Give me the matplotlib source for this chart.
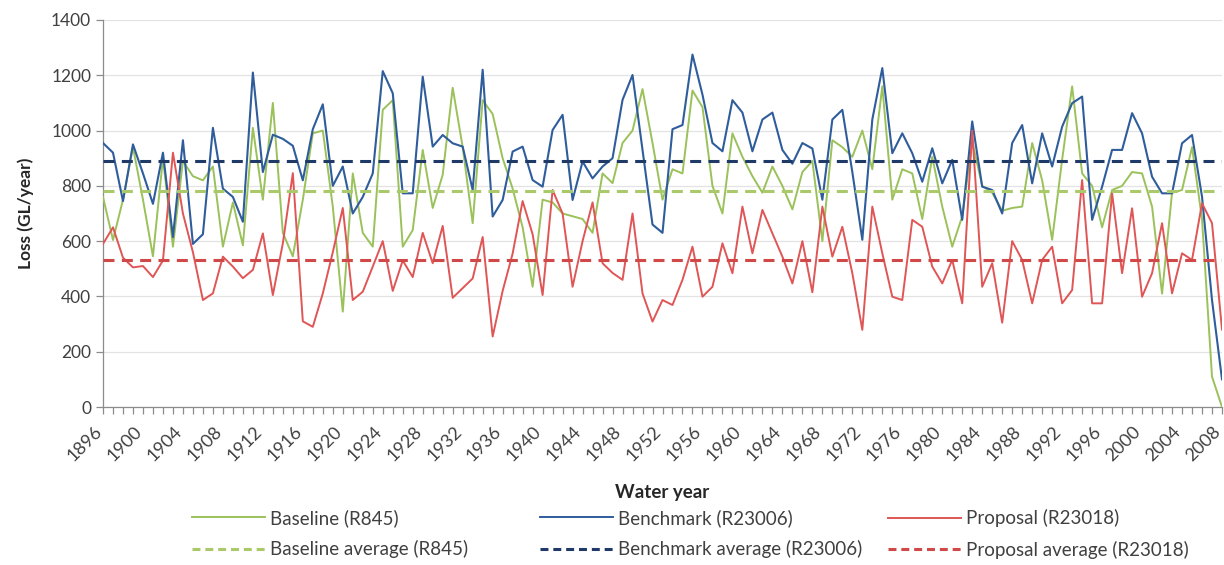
import numpy as np
import matplotlib
matplotlib.use("Agg")
import matplotlib.pyplot as plt
from matplotlib.lines import Line2D
from matplotlib.ticker import MultipleLocator
import matplotlib.transforms as mtransforms

# water years 1896 .. 2008
years = list(range(1896, 2009))

baseline = [
    760, 604, 750, 940, 750, 545, 900, 580, 890, 835,
    820, 870, 580, 740, 585, 1010, 750, 1100, 630, 545,
    750, 990, 1000, 725, 345, 845, 630, 580, 1075, 1110,
    580, 640, 930, 720, 840, 1155, 940, 665, 1110, 1060,
    900, 790, 650, 435, 750, 740, 700, 690, 680, 630,
    845, 810, 955, 1000, 1150, 955, 750, 860, 845, 1145,
    1085, 800, 700, 990, 905, 835, 775, 870, 800, 715,
    850, 890, 600, 965, 940, 905, 1000, 860, 1160, 750,
    860, 845, 680, 905, 725, 580, 690, 960, 800, 775,
    710, 720, 725, 955, 820, 605, 895, 1160, 845, 800,
    650, 785, 800, 850, 845, 725, 410, 775, 785, 940,
    680, 110, 0,
]

benchmark = [
    955, 920, 745, 950, 845, 735, 920, 615, 965, 590,
    625, 1010, 790, 760, 670, 1210, 850, 985, 970, 945,
    820, 1005, 1095, 800, 870, 700, 760, 845, 1215, 1135,
    773, 773, 1195, 942, 984, 954, 942, 785, 1220, 689,
    749, 924, 942, 821, 797, 1002, 1057, 749, 888, 827,
    870, 900, 1111, 1201, 930, 660, 630, 1005, 1020, 1275,
    1130, 955, 925, 1110, 1065, 925, 1040, 1065, 930, 880,
    955, 935, 750, 1040, 1075, 850, 605, 1040, 1226, 918,
    990, 918, 815, 936, 809, 894, 677, 1033, 797, 785,
    700, 955, 1020, 809, 990, 870, 1014, 1099, 1123, 677,
    797, 930, 930, 1063, 990, 833, 773, 773, 954, 984,
    761, 387, 100,
]

proposal = [
    590, 650, 540, 505, 510, 470, 530, 920, 700, 560,
    387, 411, 544, 508, 466, 496, 628, 405, 592, 846,
    310, 290, 411, 560, 720, 387, 417, 508, 600, 420,
    530, 470, 630, 520, 655, 395, 430, 465, 615, 255,
    420, 555, 745, 625, 405, 785, 700, 435, 600, 740,
    520, 485, 460, 700, 411, 309, 387, 369, 460, 580,
    399, 435, 592, 484, 725, 556, 713, 628, 544, 447,
    600, 415, 725, 544, 652, 484, 279, 725, 556, 399,
    387, 677, 652, 508, 447, 532, 375, 1000, 435, 520,
    305, 600, 532, 375, 532, 580, 375, 423, 821, 375,
    375, 773, 484, 719, 399, 484, 665, 411, 556, 532,
    737, 665, 280,
]

baseline_avg = 782
benchmark_avg = 890
proposal_avg = 530

labels = [
    "Baseline (R845)", "Benchmark (R23006)", "Proposal (R23018)",
    "Baseline average (R845)", "Benchmark average (R23006)", "Proposal average (R23018)",
]

GREEN = "#9bc15a"
BLUE = "#2f5d9c"
RED = "#e05555"
GREEN_D = "#a9c96a"
BLUE_D = "#1f3a66"
RED_D = "#d04848"
TXT = "#404040"


def main():
    plt.rcParams["font.family"] = ["Lato", "DejaVu Sans"]

    ##########
    # LAYOUT #
    ##########
    W, H = 1224, 565
    fig = plt.figure(figsize=(W / 100, H / 100), dpi=100)
    ax = fig.add_axes([103 / W, 1 - 407 / H, (1222 - 103) / W, (407 - 20) / H])

    ############
    # PLOTTING #
    ############
    ax.plot(years, baseline, color=GREEN, lw=1.4, zorder=3)
    ax.plot(years, benchmark, color=BLUE, lw=1.5, zorder=3)
    ax.plot(years, proposal, color=RED, lw=1.4, zorder=3)

    dash = dict(lw=2.2, dashes=(3.6, 2.4), zorder=4)
    ax.plot([years[0], years[-1]], [baseline_avg] * 2, color=GREEN_D, **dash)
    ax.plot([years[0], years[-1]], [benchmark_avg] * 2, color=BLUE_D, **dash)
    ax.plot([years[0], years[-1]], [proposal_avg] * 2, color=RED_D, **dash)

    ax.set_xlim(1896, 2008)
    ax.set_ylim(0, 1400)
    ax.yaxis.set_major_locator(MultipleLocator(200))
    ax.xaxis.set_major_locator(MultipleLocator(4))
    ax.xaxis.set_minor_locator(MultipleLocator(1))
    ax.grid(axis="y", color="#e3e3e3", lw=0.9, zorder=0)

    for s in ["top", "right"]:
        ax.spines[s].set_visible(False)
    for s in ["left", "bottom"]:
        ax.spines[s].set_color("#8c8c8c")
        ax.spines[s].set_linewidth(0.9)

    ax.tick_params(axis="both", which="both", colors="#8c8c8c", length=5, width=0.9)
    ax.tick_params(axis="y", labelcolor=TXT, labelsize=12.5)
    ax.tick_params(axis="x", labelcolor=TXT, labelsize=13, pad=7)

    offset = mtransforms.ScaledTranslation(2 / 100, 0, fig.dpi_scale_trans)
    for lab in ax.get_xticklabels():
        lab.set_rotation(45)
        lab.set_ha("right")
        lab.set_va("top")
        lab.set_transform(lab.get_transform() + offset)

    ax.set_ylabel("Loss (GL/year)", fontsize=12.5, fontweight="bold", color="#262626", labelpad=12)
    ax.set_xlabel("Water year", fontsize=13.5, fontweight="bold", color="#262626", labelpad=14)

    ##########
    # LEGEND #
    ##########
    cols = [(GREEN, GREEN_D), (BLUE, BLUE_D), (RED, RED_D)]
    starts = [192, 540, 888]
    for k, (c_solid, c_dash) in enumerate(cols):
        handles = [
            Line2D([], [], color=c_solid, lw=1.4),
            Line2D([], [], color=c_dash, lw=2.2, dashes=(2.6, 1.6)),
        ]
        fig.legend(handles, [labels[k], labels[k + 3]],
                   loc="upper left", bbox_to_anchor=(starts[k] / W, 1 - 509 / H),
                   frameon=False, borderpad=0, borderaxespad=0,
                   handlelength=3.9, handletextpad=0.25, labelspacing=0.72,
                   fontsize=13.5, labelcolor=TXT)

    fig.savefig("out.png", dpi=100)


if __name__ == "__main__":
    main()
